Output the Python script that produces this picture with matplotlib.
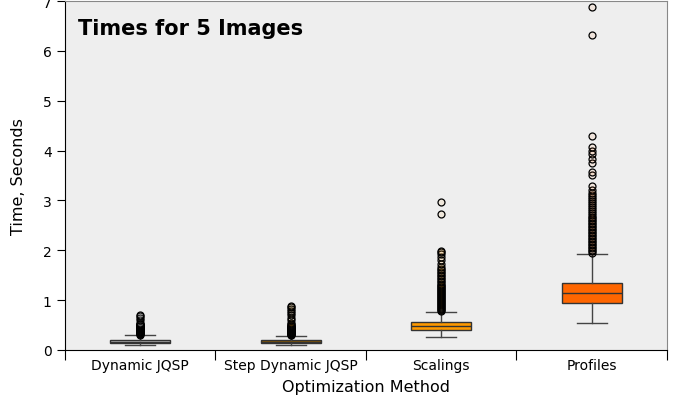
import matplotlib
matplotlib.use("Agg")
import matplotlib.pyplot as plt
from matplotlib.ticker import FixedLocator, NullFormatter, FixedFormatter

# box statistics (seconds)
methods = ["Dynamic JQSP", "Step Dynamic JQSP", "Scalings", "Profiles"]
q1 = [0.14, 0.14, 0.40, 0.95]
med = [0.17, 0.17, 0.48, 1.14]
q3 = [0.20, 0.20, 0.555, 1.34]
whislo = [0.10, 0.10, 0.27, 0.535]
whishi = [0.30, 0.29, 0.77, 1.93]
fliers = [
    [0.31, 0.32, 0.33, 0.34, 0.35, 0.36, 0.37, 0.38, 0.39, 0.40, 0.41, 0.42,
     0.43, 0.44, 0.45, 0.46, 0.47, 0.48, 0.49, 0.50, 0.51, 0.52, 0.53, 0.55,
     0.60, 0.65, 0.68, 0.70],
    [0.30, 0.31, 0.32, 0.33, 0.34, 0.35, 0.36, 0.37, 0.38, 0.39, 0.40, 0.41,
     0.42, 0.43, 0.44, 0.45, 0.46, 0.47, 0.48, 0.49, 0.50, 0.52, 0.55, 0.60,
     0.65, 0.70, 0.74, 0.78, 0.82, 0.86, 0.88],
    [0.78, 0.80, 0.82, 0.84, 0.86, 0.88, 0.90, 0.92, 0.94, 0.96, 0.98, 1.00,
     1.02, 1.04, 1.06, 1.08, 1.10, 1.12, 1.14, 1.16, 1.18, 1.20, 1.22, 1.24,
     1.26, 1.28, 1.30, 1.33, 1.36, 1.39, 1.42, 1.45, 1.48, 1.51, 1.54, 1.57,
     1.60, 1.62, 1.66, 1.72, 1.80, 1.87, 1.92, 1.96, 1.98, 2.73, 2.97],
    [1.95, 1.98, 2.01, 2.04, 2.07, 2.10, 2.13, 2.16, 2.19, 2.22, 2.25, 2.28,
     2.31, 2.34, 2.37, 2.40, 2.43, 2.46, 2.49, 2.52, 2.55, 2.58, 2.61, 2.64,
     2.67, 2.70, 2.74, 2.78, 2.82, 2.86, 2.90, 2.94, 2.98, 3.02, 3.06, 3.10,
     3.15, 3.20, 3.28, 3.51, 3.58, 3.76, 3.84, 3.93, 4.00, 4.07, 4.30, 6.32,
     6.88],
]
box_colors = ["#bdbdbd", "#8c5a00", "#ff9900", "#ff6600"]

fig = plt.figure(figsize=(6.77, 4.06), dpi=100)
ax = fig.add_axes([0.096, 0.1355, 0.889, 0.8595])
ax.set_facecolor("#eeeeee")

stats = []
for i in range(len(methods)):
    stats.append(dict(q1=q1[i], med=med[i], q3=q3[i], whislo=whislo[i],
                      whishi=whishi[i], fliers=fliers[i], label=methods[i]))

pos = list(range(1, len(methods) + 1))
bp = ax.bxp(stats, positions=pos, widths=0.4, patch_artist=True,
            medianprops=dict(color="#333333", linewidth=1),
            whiskerprops=dict(color="#444444", linewidth=1),
            capprops=dict(color="#444444", linewidth=1))
for patch, c in zip(bp["boxes"], box_colors):
    patch.set_facecolor(c)
    patch.set_edgecolor("#333333")
    patch.set_linewidth(1)
for fl, c in zip(bp["fliers"], box_colors):
    fl.set_marker("o")
    fl.set_markersize(5)
    fl.set_markeredgecolor("black")
    fl.set_markeredgewidth(0.9)
    fl.set_markerfacecolor(matplotlib.colors.to_rgba(c, 0.08))

ax.set_xlim(0.5, len(methods) + 0.5)
ax.set_ylim(0, 7)
ax.xaxis.set_major_locator(FixedLocator([p - 0.5 for p in pos] + [pos[-1] + 0.5]))
ax.xaxis.set_major_formatter(NullFormatter())
ax.xaxis.set_minor_locator(FixedLocator(pos))
ax.xaxis.set_minor_formatter(FixedFormatter(methods))
ax.tick_params(axis="x", which="minor", length=0, labelsize=10, pad=6)
ax.tick_params(axis="x", which="major", length=7)
ax.tick_params(axis="y", labelsize=10, length=6)

for s in ["top", "right"]:
    ax.spines[s].set_color("#888888")

ax.set_xlabel("Optimization Method", fontsize=11.5, labelpad=5)
ax.set_ylabel("Time, Seconds", fontsize=11.5, labelpad=12)
ax.text(0.022, 0.95, "Times for 5 Images", transform=ax.transAxes,
        fontsize=15, fontweight="bold", va="top")

fig.savefig("out.png")
